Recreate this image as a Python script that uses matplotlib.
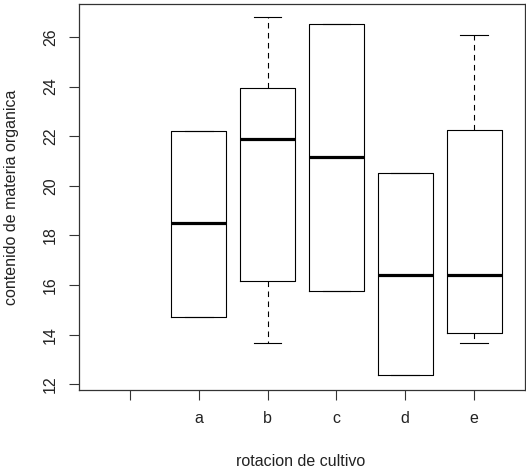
import matplotlib
matplotlib.use("Agg")
import matplotlib.pyplot as plt

plt.rcParams['font.family'] = ['Liberation Sans', 'DejaVu Sans']

# categories on the x axis (first slot is an empty level)
categories = ['', 'a', 'b', 'c', 'd', 'e']

# five-number summaries for each rotation
whislo = [14.73, 13.65, 15.76, 12.36, 13.65]
q1 = [14.73, 16.18, 15.76, 12.36, 14.05]
med = [18.50, 21.89, 21.15, 16.42, 16.42]
q3 = [22.22, 23.96, 26.54, 20.50, 22.27]
whishi = [22.22, 26.79, 26.54, 20.50, 26.08]

yticks = [12, 14, 16, 18, 20, 22, 24, 26]

stats = []
for i, name in enumerate(categories[1:]):
    stats.append(dict(label=name, whislo=whislo[i], q1=q1[i], med=med[i],
                      q3=q3[i], whishi=whishi[i], fliers=[]))

fig = plt.figure(figsize=(5.26, 4.72), dpi=100)
ax = fig.add_axes([79 / 526, 82 / 472, 446 / 526, 386 / 472])

lw = 0.8
ax.bxp(stats, positions=range(2, len(categories) + 1), widths=0.8,
       showfliers=False,
       boxprops=dict(color='black', linewidth=lw),
       medianprops=dict(color='black', linewidth=2.3, solid_capstyle='butt'),
       whiskerprops=dict(color='black', linewidth=lw, linestyle=(0, (5, 4))),
       capprops=dict(color='black', linewidth=lw),
       capwidths=0.4)

n = len(categories)
span = n
ax.set_xlim(0.5 - 0.04 * span, n + 0.5 + 0.04 * span)
ax.set_ylim(11.77, 27.33)
ax.set_xticks(range(1, n + 1))
ax.set_xticklabels(categories)
ax.set_yticks(yticks)
ax.set_yticklabels([str(t) for t in yticks], rotation=90, va='center')

ax.tick_params(axis='both', length=7, width=0.8, color='#333333',
               labelsize=11.5, pad=8, labelcolor='#222222')
for s in ax.spines.values():
    s.set_linewidth(0.9)
    s.set_color('#333333')

ax.set_xlabel('rotacion de cultivo', fontsize=11.5, color='#222222')
ax.set_ylabel('contenido de materia organica', fontsize=11.5, color='#222222')
ax.xaxis.set_label_coords((301 - 79) / 446, (390 - 461) / 386)
ax.xaxis.label.set_va('center')
ax.yaxis.set_label_coords((12 - 79) / 446, 0.5)
ax.yaxis.label.set_va('center')

fig.savefig('out.png', dpi=100)
